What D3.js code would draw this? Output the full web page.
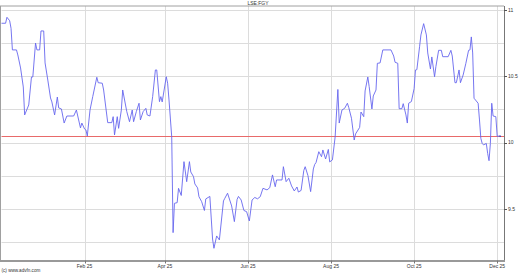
<!DOCTYPE html>
<html>
<head>
<meta charset="utf-8">
<script src="https://cdn.jsdelivr.net/npm/d3@7"></script>
<style>
html,body{margin:0;padding:0;background:#fff;}
svg{display:block;}
</style>
</head>
<body>
<svg id="chart" width="520" height="273"></svg>
<script>
const title = "LSE:FGY";
const footer = "(c) www.advfn.com";
const dates = ["2024-12-02","2024-12-05","2024-12-06","2024-12-08","2024-12-09","2024-12-10","2024-12-13","2024-12-14","2024-12-16","2024-12-18","2024-12-19","2024-12-22","2024-12-24","2024-12-25","2024-12-27","2024-12-28","2024-12-30","2024-12-31","2025-01-02","2025-01-03","2025-01-05","2025-01-07","2025-01-08","2025-01-10","2025-01-12","2025-01-13","2025-01-15","2025-01-17","2025-01-19","2025-01-24","2025-01-26","2025-01-29","2025-01-30","2025-02-01","2025-02-02","2025-02-03","2025-02-05","2025-02-07","2025-02-10","2025-02-11","2025-02-14","2025-02-15","2025-02-18","2025-02-21","2025-02-22","2025-02-23","2025-02-25","2025-02-26","2025-02-28","2025-03-01","2025-03-04","2025-03-06","2025-03-08","2025-03-09","2025-03-11","2025-03-13","2025-03-14","2025-03-16","2025-03-18","2025-03-19","2025-03-21","2025-03-23","2025-03-25","2025-03-26","2025-03-28","2025-03-29","2025-03-30","2025-04-02","2025-04-03","2025-04-04","2025-04-06","2025-04-07","2025-04-08","2025-04-10","2025-04-11","2025-04-13","2025-04-15","2025-04-17","2025-04-19","2025-04-20","2025-04-22","2025-04-23","2025-04-25","2025-04-26","2025-04-28","2025-04-30","2025-05-01","2025-05-04","2025-05-06","2025-05-07","2025-05-09","2025-05-11","2025-05-14","2025-05-15","2025-05-17","2025-05-20","2025-05-22","2025-05-24","2025-05-25","2025-05-27","2025-05-29","2025-05-31","2025-06-02","2025-06-04","2025-06-06","2025-06-08","2025-06-10","2025-06-12","2025-06-15","2025-06-17","2025-06-19","2025-06-21","2025-06-22","2025-06-26","2025-06-27","2025-06-29","2025-07-01","2025-07-03","2025-07-05","2025-07-07","2025-07-08","2025-07-10","2025-07-12","2025-07-13","2025-07-15","2025-07-17","2025-07-19","2025-07-20","2025-07-21","2025-07-23","2025-07-25","2025-07-26","2025-07-28","2025-07-30","2025-07-31","2025-08-02","2025-08-04","2025-08-06","2025-08-07","2025-08-09","2025-08-11","2025-08-13","2025-08-14","2025-08-16","2025-08-18","2025-08-19","2025-08-22","2025-08-23","2025-08-25","2025-08-26","2025-08-28","2025-08-29","2025-08-31","2025-09-01","2025-09-03","2025-09-04","2025-09-06","2025-09-08","2025-09-14","2025-09-16","2025-09-17","2025-09-19","2025-09-20","2025-09-22","2025-09-23","2025-09-25","2025-09-26","2025-09-27","2025-09-29","2025-10-01","2025-10-02","2025-10-03","2025-10-05","2025-10-06","2025-10-08","2025-10-10","2025-10-11","2025-10-13","2025-10-14","2025-10-16","2025-10-17","2025-10-19","2025-10-21","2025-10-22","2025-10-26","2025-10-28","2025-10-29","2025-10-31","2025-11-01","2025-11-03","2025-11-04","2025-11-06","2025-11-08","2025-11-10","2025-11-11","2025-11-12","2025-11-13","2025-11-14","2025-11-17","2025-11-18","2025-11-19","2025-11-20","2025-11-21","2025-11-23","2025-11-24","2025-11-25","2025-11-26","2025-11-27","2025-11-28","2025-11-30","2025-12-01","2025-12-03"];
const prices = [10.90,10.90,10.945,10.919,10.862,10.699,10.699,10.661,10.563,10.42,10.209,10.284,10.495,10.495,10.751,10.699,10.699,10.842,10.842,10.601,10.472,10.337,10.307,10.209,10.344,10.262,10.254,10.148,10.201,10.201,10.246,10.111,10.148,10.103,10.096,10.05,10.246,10.347,10.493,10.452,10.448,10.397,10.151,10.151,10.196,10.058,10.196,10.108,10.246,10.397,10.234,10.158,10.246,10.158,10.234,10.297,10.171,10.234,10.259,10.209,10.201,10.347,10.548,10.548,10.309,10.347,10.307,10.497,10.448,10.322,10.043,9.322,9.543,9.548,9.656,9.602,9.857,9.706,9.857,9.779,9.744,9.689,9.659,9.593,9.555,9.489,9.576,9.595,9.274,9.204,9.297,9.267,9.561,9.581,9.619,9.523,9.405,9.572,9.595,9.568,9.489,9.48,9.41,9.568,9.587,9.577,9.593,9.656,9.644,9.661,9.757,9.668,9.719,9.719,9.819,9.706,9.732,9.674,9.636,9.666,9.628,9.64,9.791,9.819,9.753,9.631,9.802,9.836,9.851,9.932,9.894,9.945,9.877,9.949,9.855,9.87,10.043,10.401,10.148,10.246,10.259,10.297,10.265,10.184,10.02,10.066,10.115,10.231,10.196,10.39,10.495,10.422,10.254,10.352,10.397,10.598,10.601,10.699,10.699,10.653,10.606,10.598,10.256,10.256,10.294,10.209,10.148,10.297,10.31,10.408,10.548,10.55,10.723,10.812,10.897,10.812,10.676,10.555,10.646,10.497,10.574,10.696,10.696,10.648,10.648,10.696,10.653,10.452,10.452,10.548,10.452,10.51,10.598,10.696,10.699,10.797,10.676,10.335,10.297,10.171,10.032,9.994,9.983,9.994,9.919,9.864,9.995,10.297,10.201,10.196,10.048,10.05];
const refLevel = 10.05;
const yTicks = [9.25,9.5,9.75,10,10.25,10.5,10.75,11];
const yLabels = [9.5,10,10.5,11];
const xTickDates = ["2025-02-01","2025-04-01","2025-06-01","2025-08-01","2025-10-01","2025-12-01"];
const xTickLabels = ["Feb 25","Apr 25","Jun 25","Aug 25","Oct 25","Dec 25"];
const domainStart = "2024-12-02", domainEnd = "2025-12-06";
const yMin = 9.112, yMax = 11.03;

const parse = d3.utcParse("%Y-%m-%d");
const data = dates.map((d,i)=>({date:parse(d), v:prices[i]}));

const L = 1.5, R = 504, T = 6, B = 260.5;
const svg = d3.select("#chart");
const x = d3.scaleUtc().domain([parse(domainStart), parse(domainEnd)]).range([L, R]);
const y = d3.scaleLinear().domain([yMin, yMax]).range([B, T]);
const font = "Liberation Sans, Arial, sans-serif";

// grid
svg.append("g").selectAll("line").data(yTicks).join("line")
  .attr("x1", L).attr("x2", R).attr("y1", d=>Math.round(y(d))+0.5).attr("y2", d=>Math.round(y(d))+0.5)
  .attr("stroke", "#dcdcdc").attr("stroke-width", 1);
svg.append("g").selectAll("line").data(xTickDates).join("line")
  .attr("x1", d=>Math.round(x(parse(d)))+0.5).attr("x2", d=>Math.round(x(parse(d)))+0.5)
  .attr("y1", T).attr("y2", B)
  .attr("stroke", "#dcdcdc").attr("stroke-width", 1);

// reference line
svg.append("line").attr("x1", L).attr("x2", R)
  .attr("y1", Math.round(y(refLevel))+0.5).attr("y2", Math.round(y(refLevel))+0.5)
  .attr("stroke", "#e86a6a").attr("stroke-width", 1);

// price line
svg.append("path").datum(data)
  .attr("d", d3.line().x(d=>x(d.date)).y(d=>y(d.v)))
  .attr("fill", "none").attr("stroke", "#6767ee").attr("stroke-width", 0.9);

// last point marker
const last = data[data.length-1];
svg.append("rect").attr("x", x(last.date)-0.5).attr("y", y(last.v)-0.5)
  .attr("width", 1.5).attr("height", 1.5).attr("fill", "#4444aa");

// frame
svg.append("line").attr("x1", 0).attr("x2", R).attr("y1", T).attr("y2", T).attr("stroke", "#a0a0a0");
svg.append("line").attr("x1", 0.5).attr("x2", 0.5).attr("y1", T).attr("y2", B).attr("stroke", "#a0a0a0");
svg.append("line").attr("x1", R+0.5).attr("x2", R+0.5).attr("y1", T).attr("y2", B+1).attr("stroke", "#777");
svg.append("line").attr("x1", 0).attr("x2", R+1).attr("y1", B+0.5).attr("y2", B+0.5).attr("stroke", "#999").attr("stroke-width", 2);

// right axis ticks and labels
svg.append("g").selectAll("line").data(yLabels).join("line")
  .attr("x1", R).attr("x2", R+3).attr("y1", d=>Math.round(y(d))+0.5).attr("y2", d=>Math.round(y(d))+0.5)
  .attr("stroke", "#555");
svg.append("g").selectAll("text").data(yLabels).join("text")
  .attr("x", R+4).attr("y", d=>y(d)).attr("dy", "0.35em")
  .attr("font-family", font).attr("font-size", 5).attr("fill", "#333")
  .text(d=>d3.format("")(d));

// bottom ticks and labels
svg.append("g").selectAll("line").data(xTickDates).join("line")
  .attr("x1", d=>Math.round(x(parse(d)))+0.5).attr("x2", d=>Math.round(x(parse(d)))+0.5)
  .attr("y1", B).attr("y2", B+3).attr("stroke", "#777");
svg.append("g").selectAll("text").data(xTickDates).join("text")
  .attr("x", d=>x(parse(d))).attr("y", B+7)
  .attr("text-anchor", "middle")
  .attr("font-family", font).attr("font-size", 5).attr("fill", "#333")
  .text((d,i)=>xTickLabels[i]);

svg.append("text").attr("x", 258).attr("y", 5)
  .attr("text-anchor", "middle").attr("font-family", font).attr("font-size", 5).attr("fill", "#333")
  .text(title);
svg.append("text").attr("x", 1.5).attr("y", 272)
  .attr("font-family", font).attr("font-size", 4.6).attr("fill", "#333")
  .text(footer);
</script>
</body>
</html>
